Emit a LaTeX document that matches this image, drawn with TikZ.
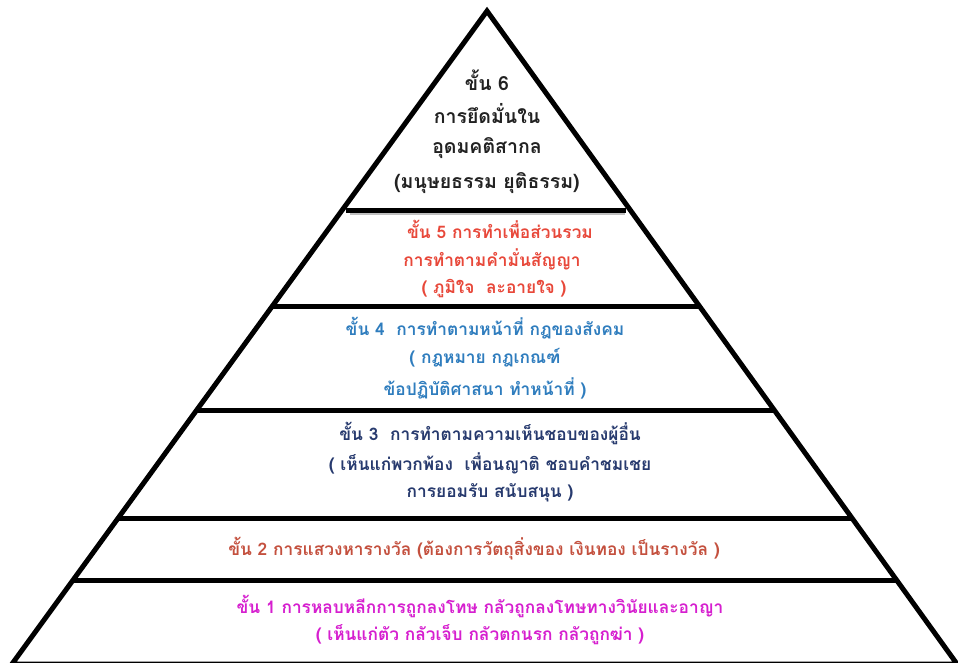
\documentclass[tikz,border=0pt]{standalone}
\usepackage{fontspec}
\newfontfamily\thaifont[Script=Thai]{Loma}
\usetikzlibrary{calc}
\definecolor{lsix}{HTML}{222222}
\definecolor{lfive}{HTML}{E8483A}
\definecolor{lfour}{HTML}{2F7DBE}
\definecolor{lthree}{HTML}{273A6E}
\definecolor{ltwo}{HTML}{C4503E}
\definecolor{lone}{HTML}{D61FCF}
\tikzset{
  pyr/.style={line width=5pt, line join=miter, draw=black},
  sep/.style={line width=5pt, draw=black},
  txt/.style={font=\thaifont\bfseries\fontsize{17.3}{20}\selectfont, inner sep=0pt, anchor=center},
  bigtxt/.style={font=\thaifont\bfseries\fontsize{19.5}{23}\selectfont, inner sep=0pt, anchor=center},
}
\begin{document}
\begin{tikzpicture}[x=1pt,y=-1pt]
\useasboundingbox (0,0) rectangle (958,662);
\fill[white] (0,0) rectangle (958,662);
\coordinate (apex) at (487,11);
\coordinate (bl) at (12,664);
\coordinate (br) at (957,664);
\draw[pyr] (bl) -- (apex) -- (br) -- cycle;
% separators
\coordinate (l5) at ($(apex)!0.3052!(bl)$);
\coordinate (r5) at ($(apex)!0.3052!(br)$);
\coordinate (l4) at ($(apex)!0.4525!(bl)$);
\coordinate (r4) at ($(apex)!0.4525!(br)$);
\coordinate (l3) at ($(apex)!0.6118!(bl)$);
\coordinate (r3) at ($(apex)!0.6118!(br)$);
\coordinate (l2) at ($(apex)!0.7772!(bl)$);
\coordinate (r2) at ($(apex)!0.7772!(br)$);
\coordinate (l1) at ($(apex)!0.8723!(bl)$);
\coordinate (r1) at ($(apex)!0.8723!(br)$);
\draw[line width=2pt, gray!50] ($(l5)+(8,4)$) -- ($(r5)+(-5,4)$);
\draw[sep] ($(l5)+(4,0)$) -- ($(r5)+(-4,0)$);
\draw[sep] (l4) -- (r4);
\draw[sep] (l3) -- (r3);
\draw[sep] (l2) -- (r2);
\draw[sep] (l1) -- (r1);
% level 6
\node[bigtxt, text=lsix] (t6a) at (487,80) {ขั้น 6};
\node[bigtxt, text=lsix] (t6b) at (487,114) {การยึดมั่นใน};
\node[bigtxt, text=lsix] (t6c) at (487,148) {อุดมคติสากล};
\node[bigtxt, text=lsix] (t6d) at (487,183) {(มนุษยธรรม ยุติธรรม)};
% level 5
\node[txt, text=lfive] (t5a) at (500,229) {ขั้น 5 การทำเพื่อส่วนรวม};
\node[txt, text=lfive] (t5b) at (492,259) {การทำตามคำมั่นสัญญา};
\node[txt, text=lfive] (t5c) at (494,289) {( ภูมิใจ~~ละอายใจ )};
% level 4
\node[txt, text=lfour] (t4a) at (485,328) {ขั้น 4~~การทำตามหน้าที่ กฎของสังคม};
\node[txt, text=lfour] (t4b) at (485,358) {( กฎหมาย กฎเกณฑ์};
\node[txt, text=lfour] (t4c) at (485,388) {ข้อปฏิบัติศาสนา ทำหน้าที่ )};
% level 3
\node[txt, text=lthree] (t3a) at (490,433) {ขั้น 3~~การทำตามความเห็นชอบของผู้อื่น};
\node[txt, text=lthree] (t3b) at (490,463) {( เห็นแก่พวกพ้อง~~เพื่อนญาติ ชอบคำชมเชย};
\node[txt, text=lthree] (t3c) at (490,493) {การยอมรับ~สนับสนุน )};
% level 2
\node[txt, text=ltwo] (t2a) at (474,549) {ขั้น 2 การแสวงหารางวัล (ต้องการวัตถุสิ่งของ~เงินทอง เป็นรางวัล )};
% level 1
\node[txt, text=lone] (t1a) at (480,606) {ขั้น 1 การหลบหลีกการถูกลงโทษ~กลัวถูกลงโทษทางวินัยและอาญา};
\node[txt, text=lone] (t1b) at (480,635) {( เห็นแก่ตัว~กลัวเจ็บ~กลัวตกนรก~กลัวถูกฆ่า )};
\end{tikzpicture}
\end{document}
